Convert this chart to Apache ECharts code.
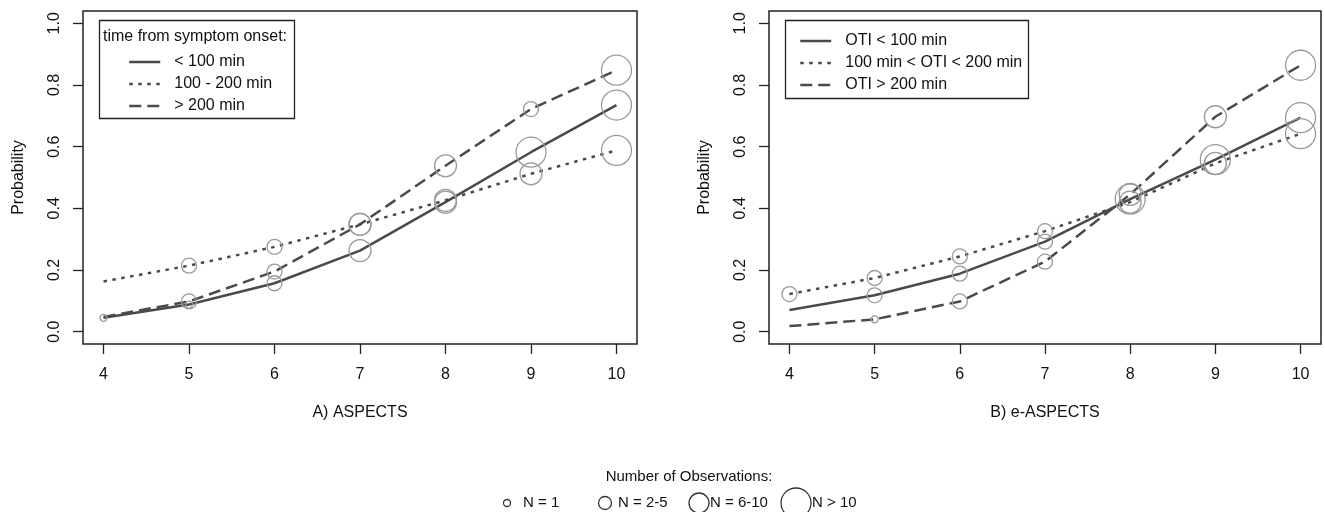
<!DOCTYPE html>
<html><head><meta charset="utf-8">
<script src="https://cdn.jsdelivr.net/npm/echarts@6/dist/echarts.min.js"></script>
<style>html,body{margin:0;padding:0;background:#fff}#c{width:1325px;height:512px}</style>
</head><body><div id="c"></div>
<script>
// ---- data ----
const scores = [4, 5, 6, 7, 8, 9, 10];
const tickX = [4, 5, 6, 7, 8, 9, 10];
const tickY = [0, 0.2, 0.4, 0.6, 0.8, 1.0];

// A) ASPECTS, time from symptom onset
const aspNames = ['< 100 min', '100 - 200 min', '> 200 min'];
const aspLt100 = [0.045, 0.088, 0.157, 0.263, 0.420, 0.582, 0.735];
const aspMid   = [0.163, 0.214, 0.275, 0.348, 0.426, 0.512, 0.588];
const aspGt200 = [0.048, 0.098, 0.195, 0.348, 0.538, 0.722, 0.848];
// observation-count class per point (0 = no circle, 1: N=1, 2: N=2-5, 3: N=6-10, 4: N>10)
const aspLt100N = [1, 1, 2, 3, 3, 4, 4];
const aspMidN   = [0, 2, 2, 3, 3, 3, 4];
const aspGt200N = [0, 2, 2, 3, 3, 2, 4];

// B) e-ASPECTS, OTI
const eNames = ['OTI < 100 min', '100 min < OTI < 200 min', 'OTI > 200 min'];
const eLt100 = [0.070, 0.118, 0.188, 0.292, 0.430, 0.558, 0.694];
const eMid   = [0.122, 0.174, 0.244, 0.326, 0.420, 0.546, 0.642];
const eGt200 = [0.018, 0.040, 0.098, 0.227, 0.445, 0.697, 0.864];
const eLt100N = [0, 2, 2, 2, 4, 4, 4];
const eMidN   = [2, 2, 2, 2, 3, 3, 4];
const eGt200N = [0, 1, 2, 2, 3, 3, 4];

const nLabels = ['N = 1', 'N = 2-5', 'N = 6-10', 'N > 10'];

// ---- style ----
const FF = '"Liberation Sans", Arial, Helvetica, sans-serif';
const TXT = '#111';
const AX = '#222';
const LINE = '#4a4a4a';
const CIRC = '#9a9a9a';
const SIZES = [0, 7, 15, 22, 30];
const DASH = ['solid', [3.5, 5.5], [12, 6]];

function lineSeries(name, vals, idx, k) {
  return {
    type: 'line', name: name, xAxisIndex: idx, yAxisIndex: idx,
    data: scores.map((x, i) => [x, vals[i]]),
    symbol: 'none', silent: true, z: 2,
    lineStyle: { color: LINE, width: 2.5, type: DASH[k], cap: 'butt' },
    itemStyle: { color: LINE }
  };
}
function circleSeries(vals, ns, idx) {
  const d = [];
  scores.forEach((x, i) => { if (ns[i] > 0) d.push([x, vals[i], ns[i]]); });
  return {
    type: 'scatter', xAxisIndex: idx, yAxisIndex: idx, data: d, silent: true, z: 3,
    symbol: 'circle', symbolSize: v => SIZES[v[2]],
    itemStyle: { color: 'rgba(255,255,255,0)', borderColor: CIRC, borderWidth: 1.3, opacity: 1 }
  };
}
function xAx(idx, name) {
  return {
    type: 'value', gridIndex: idx, min: 3.76, max: 10.24,
    name: name, nameLocation: 'middle', nameGap: 61,
    nameTextStyle: { fontSize: 16, color: TXT, fontFamily: FF },
    axisLine: { show: false, onZero: false }, splitLine: { show: false },
    axisTick: { show: true, inside: false, length: 10, lineStyle: { color: AX, width: 1.3 }, customValues: tickX },
    axisLabel: { show: true, customValues: tickX, margin: 23, fontSize: 16, color: TXT, fontFamily: FF }
  };
}
function yAx(idx) {
  return {
    type: 'value', gridIndex: idx, min: -0.04, max: 1.04,
    name: 'Probability', nameLocation: 'middle', nameRotate: 90, nameGap: 56,
    nameTextStyle: { fontSize: 16, color: TXT, fontFamily: FF },
    axisLine: { show: false, onZero: false }, splitLine: { show: false },
    axisTick: { show: true, inside: false, length: 10, lineStyle: { color: AX, width: 1.3 }, customValues: tickY },
    axisLabel: { show: true, customValues: tickY, rotate: 90, margin: 20, fontSize: 16, color: TXT, fontFamily: FF,
      formatter: v => Number(v).toFixed(1) }
  };
}
function legendCfg(names, left, top) {
  return {
    data: names, orient: 'vertical', left: left, top: top, padding: 0,
    itemWidth: 31, itemHeight: 14, itemGap: 6, selectedMode: false,
    lineStyle: { width: 2.5 },
    itemStyle: { opacity: 0, color: 'rgba(0,0,0,0)', borderWidth: 0 },
    textStyle: { fontSize: 16, color: TXT, fontFamily: FF, padding: [0, 0, 0, 9] }
  };
}

const bottomY = 503;
const legCx = [507, 605, 699, 796];
const legR = [3.5, 6.5, 10, 15];
const legTx = [523, 618, 710, 812];
const graphics = [
  { type: 'rect', shape: { x: 99.5, y: 20.5, width: 195, height: 98 }, style: { fill: 'none', stroke: AX, lineWidth: 1.3 } },
  { type: 'text', style: { text: 'time from symptom onset:', x: 103, y: 37, font: '16px ' + FF, fill: TXT, verticalAlign: 'middle' } },
  { type: 'rect', shape: { x: 785.5, y: 20.5, width: 243, height: 78 }, style: { fill: 'none', stroke: AX, lineWidth: 1.3 } },
  { type: 'text', style: { text: 'Number of Observations:', x: 689, y: 477, font: '15px ' + FF, fill: TXT, align: 'center', verticalAlign: 'middle' } }
];
nLabels.forEach((t, i) => {
  graphics.push({ type: 'circle', shape: { cx: legCx[i], cy: bottomY, r: legR[i] }, style: { fill: 'none', stroke: '#333', lineWidth: 1.3 } });
  graphics.push({ type: 'text', style: { text: t, x: legTx[i], y: bottomY, font: '15px ' + FF, fill: TXT, verticalAlign: 'middle' } });
});

const chart = echarts.init(document.getElementById('c'), null, { renderer: 'canvas' });
chart.setOption({
  animation: false,
  backgroundColor: '#fff',
  grid: [
    { left: 83, top: 11, width: 554, height: 333, show: true, borderColor: AX, borderWidth: 1.5, backgroundColor: 'transparent', containLabel: false, outerBoundsMode: 'none' },
    { left: 769, top: 11, width: 552, height: 333, show: true, borderColor: AX, borderWidth: 1.5, backgroundColor: 'transparent', containLabel: false, outerBoundsMode: 'none' }
  ],
  xAxis: [xAx(0, 'A) ASPECTS'), xAx(1, 'B) e-ASPECTS')],
  yAxis: [yAx(0), yAx(1)],
  legend: [legendCfg(aspNames, 128, 54), legendCfg(eNames, 799, 33)],
  graphic: graphics,
  series: [
    lineSeries(aspNames[0], aspLt100, 0, 0),
    lineSeries(aspNames[1], aspMid, 0, 1),
    lineSeries(aspNames[2], aspGt200, 0, 2),
    circleSeries(aspLt100, aspLt100N, 0),
    circleSeries(aspMid, aspMidN, 0),
    circleSeries(aspGt200, aspGt200N, 0),
    lineSeries(eNames[0], eLt100, 1, 0),
    lineSeries(eNames[1], eMid, 1, 1),
    lineSeries(eNames[2], eGt200, 1, 2),
    circleSeries(eLt100, eLt100N, 1),
    circleSeries(eMid, eMidN, 1),
    circleSeries(eGt200, eGt200N, 1)
  ]
});
</script></body></html>
